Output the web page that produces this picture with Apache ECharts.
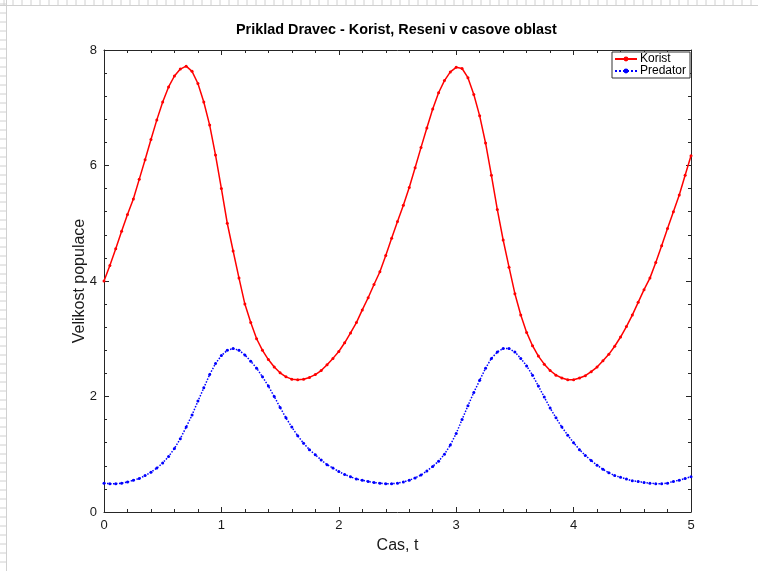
<!DOCTYPE html>
<html>
<head>
<meta charset="utf-8">
<script src="https://cdn.jsdelivr.net/npm/echarts@6/dist/echarts.min.js"></script>
<style>
html,body{margin:0;padding:0;background:#fff;}
#chart{width:758px;height:571px;}
</style>
</head>
<body>
<div id="chart"></div>
<script>
const titleText = 'Priklad Dravec - Korist, Reseni v casove oblast';
const xName = 'Cas, t';
const yName = 'Velikost populace';
const seriesNames = ['Korist', 'Predator'];

const tValues = [0.00,0.05,0.10,0.15,0.20,0.25,0.30,0.35,0.40,0.45,0.50,0.55,0.60,0.65,0.70,0.75,0.80,0.85,0.90,0.95,
1.00,1.05,1.10,1.15,1.20,1.25,1.30,1.35,1.40,1.45,1.50,1.55,1.60,1.65,1.70,1.75,1.80,1.85,1.90,1.95,
2.00,2.05,2.10,2.15,2.20,2.25,2.30,2.35,2.40,2.45,2.50,2.55,2.60,2.65,2.70,2.75,2.80,2.85,2.90,2.95,
3.00,3.05,3.10,3.15,3.20,3.25,3.30,3.35,3.40,3.45,3.50,3.55,3.60,3.65,3.70,3.75,3.80,3.85,3.90,3.95,
4.00,4.05,4.10,4.15,4.20,4.25,4.30,4.35,4.40,4.45,4.50,4.55,4.60,4.65,4.70,4.75,4.80,4.85,4.90,4.95,5.00];

const korist = [4.00,4.27,4.56,4.86,5.15,5.42,5.76,6.10,6.45,6.79,7.10,7.36,7.55,7.67,7.72,7.63,7.42,7.10,6.70,6.18,
5.60,5.00,4.52,4.05,3.60,3.28,3.00,2.80,2.64,2.51,2.41,2.34,2.30,2.29,2.30,2.33,2.38,2.45,2.55,2.66,
2.78,2.93,3.10,3.28,3.50,3.71,3.94,4.16,4.44,4.74,5.03,5.31,5.62,5.96,6.31,6.65,6.98,7.26,7.47,7.62,
7.70,7.68,7.52,7.23,6.86,6.39,5.83,5.24,4.71,4.24,3.78,3.41,3.11,2.88,2.70,2.56,2.45,2.37,2.32,2.29,
2.29,2.32,2.36,2.43,2.51,2.62,2.73,2.87,3.03,3.21,3.41,3.63,3.85,4.05,4.32,4.61,4.91,5.20,5.49,5.83,6.17];

const predator = [0.50,0.49,0.49,0.50,0.52,0.55,0.58,0.63,0.69,0.76,0.85,0.96,1.10,1.27,1.47,1.68,1.92,2.15,2.38,2.57,
2.71,2.80,2.83,2.80,2.72,2.61,2.49,2.34,2.18,2.00,1.81,1.63,1.47,1.32,1.19,1.08,0.99,0.90,0.82,0.76,
0.70,0.65,0.61,0.57,0.55,0.53,0.51,0.50,0.49,0.49,0.50,0.52,0.55,0.59,0.64,0.71,0.79,0.88,1.00,1.16,
1.36,1.60,1.84,2.07,2.28,2.49,2.66,2.77,2.83,2.83,2.77,2.66,2.53,2.37,2.18,1.99,1.80,1.63,1.47,1.33,
1.20,1.08,0.98,0.89,0.81,0.74,0.68,0.63,0.60,0.57,0.54,0.53,0.51,0.50,0.49,0.49,0.50,0.53,0.55,0.58,0.61];

const xTicks = {min: 0, max: 5, interval: 1};
const yTicks = {min: 0, max: 8, interval: 2};

const chart = echarts.init(document.getElementById('chart'), null, {renderer: 'canvas'});

const FONT = '"Liberation Sans", Arial, Helvetica, sans-serif';
const axisCol = '#262626';

function axisCommon(showLabel) {
  return {
    axisLine: {show: true, onZero: false, lineStyle: {color: axisCol, width: 1}},
    axisTick: {show: true, inside: true, length: 5, lineStyle: {color: axisCol}},
    minorTick: {show: true, splitNumber: 5, length: 3, lineStyle: {color: axisCol}},
    splitLine: {show: false},
    axisLabel: {show: showLabel, color: '#1a1a1a', fontFamily: FONT, fontSize: 13, margin: 7}
  };
}

// ruler decoration on top/left edges
const deco = [];
for (let x = 4; x < 758; x += 9) {
  deco.push({type: 'line', shape: {x1: x, y1: 0, x2: x, y2: 5}, style: {stroke: '#d0d0d0', lineWidth: 1}, silent: true});
}
deco.push({type: 'line', shape: {x1: 0, y1: 5.5, x2: 758, y2: 5.5}, style: {stroke: '#d0d0d0', lineWidth: 1}, silent: true});
for (let y = 4; y < 571; y += 9) {
  deco.push({type: 'line', shape: {x1: 0, y1: y, x2: 6, y2: y}, style: {stroke: '#d0d0d0', lineWidth: 1}, silent: true});
}
deco.push({type: 'line', shape: {x1: 6.5, y1: 0, x2: 6.5, y2: 571}, style: {stroke: '#d0d0d0', lineWidth: 1}, silent: true});

const option = {
  backgroundColor: '#ffffff',
  animation: false,
  title: {
    text: titleText,
    left: 236,
    top: 23,
    padding: 0,
    textStyle: {fontFamily: FONT, fontSize: 14.4, fontWeight: 'bold', color: '#000'}
  },
  legend: {
    data: seriesNames,
    orient: 'vertical',
    left: 612,
    top: 52,
    itemWidth: 22,
    itemHeight: 6,
    itemGap: 0,
    padding: [1, 4, 1, 2],
    borderColor: '#333',
    borderWidth: 1,
    backgroundColor: '#fff',
    textStyle: {fontFamily: FONT, fontSize: 12, color: '#000', padding: [0, 0, 0, -2]}
  },
  grid: {left: 104, right: 67, top: 50, bottom: 59, containLabel: false},
  xAxis: [
    Object.assign({
      type: 'value', min: xTicks.min, max: xTicks.max, interval: xTicks.interval,
      position: 'bottom',
      name: xName, nameLocation: 'middle', nameGap: 26, nameMoveOverlap: false,
      nameTextStyle: {fontFamily: FONT, fontSize: 16, color: '#1a1a1a'}
    }, axisCommon(true)),
    Object.assign({
      type: 'value', min: xTicks.min, max: xTicks.max, interval: xTicks.interval,
      position: 'top'
    }, axisCommon(false))
  ],
  yAxis: [
    Object.assign({
      type: 'value', min: yTicks.min, max: yTicks.max, interval: yTicks.interval,
      position: 'left',
      name: yName, nameLocation: 'middle', nameGap: 16, nameMoveOverlap: false,
      nameTextStyle: {fontFamily: FONT, fontSize: 16, color: '#1a1a1a'}
    }, axisCommon(true)),
    Object.assign({
      type: 'value', min: yTicks.min, max: yTicks.max, interval: yTicks.interval,
      position: 'right'
    }, axisCommon(false))
  ],
  series: [
    {
      name: seriesNames[0], type: 'line', xAxisIndex: 0, yAxisIndex: 0,
      data: tValues.map((t, i) => [t, korist[i]]),
      symbol: 'circle', symbolSize: 3, showSymbol: true,
      lineStyle: {color: '#ff0000', width: 1.5, type: 'solid'},
      itemStyle: {color: '#ff0000'}
    },
    {
      name: seriesNames[1], type: 'line', xAxisIndex: 0, yAxisIndex: 0,
      data: tValues.map((t, i) => [t, predator[i]]),
      symbol: 'circle', symbolSize: 3, showSymbol: true,
      lineStyle: {color: '#0000ff', width: 1.5, type: 'dotted'},
      itemStyle: {color: '#0000ff'}
    }
  ],
  graphic: deco
};
chart.setOption(option);
</script>
</body>
</html>
